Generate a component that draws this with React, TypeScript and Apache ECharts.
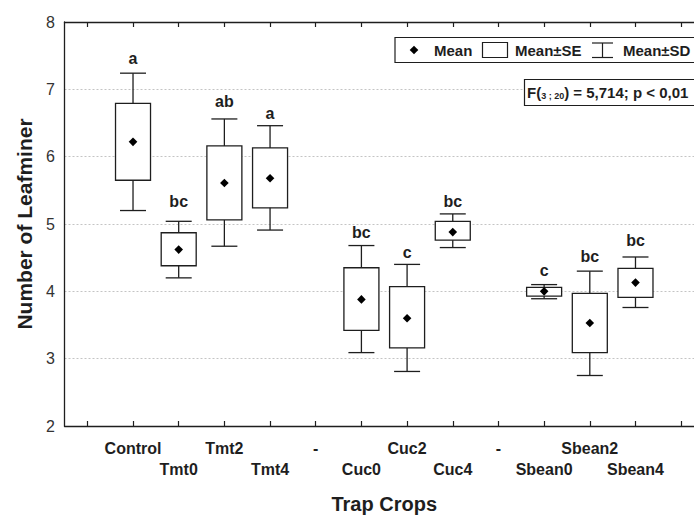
import React, { useEffect, useRef } from "react";
import * as echarts from "echarts";

// ---- Data ----
const axisCategories = ["", "Control", "Tmt0", "Tmt2", "Tmt4", "-", "Cuc0", "Cuc2", "Cuc4", "-", "Sbean0", "Sbean2", "Sbean4", ""];
const groups = ["Control", "Tmt0", "Tmt2", "Tmt4", "Cuc0", "Cuc2", "Cuc4", "Sbean0", "Sbean2", "Sbean4"];
const means = [6.22, 4.62, 5.61, 5.68, 3.88, 3.6, 4.88, 4.0, 3.53, 4.13];
const seLow = [5.65, 4.38, 5.06, 5.24, 3.42, 3.16, 4.76, 3.93, 3.09, 3.91];
const seHigh = [6.79, 4.87, 6.16, 6.13, 4.35, 4.07, 5.04, 4.06, 3.97, 4.34];
const sdLow = [5.2, 4.2, 4.67, 4.91, 3.09, 2.81, 4.65, 3.89, 2.75, 3.76];
const sdHigh = [7.24, 5.04, 6.56, 6.46, 4.68, 4.4, 5.15, 4.1, 4.3, 4.51];
const letters = ["a", "bc", "ab", "a", "bc", "c", "bc", "c", "bc", "bc"];
const letterY = [7.39, 5.27, 6.75, 6.57, 4.81, 4.51, 5.26, 4.24, 4.45, 4.69];
const yTicks = { min: 2, max: 8, interval: 1 };
const statText = { pre: "F(", sub: "3 ; 20", post: ") = 5,714; p < 0,01" };

const FONT = '"Liberation Sans", Arial, sans-serif';
const INK = "#1e1e1e";

export default function App() {
  const ref = useRef<HTMLDivElement>(null);
  useEffect(() => {
    const chart = echarts.init(ref.current!, null, { renderer: "svg" });
    const data = groups.map((g, i) => [
      axisCategories.indexOf(g),
      means[i],
      seLow[i],
      seHigh[i],
      sdLow[i],
      sdHigh[i],
      letterY[i],
      i,
    ]);
    const lineStyle = { stroke: INK, lineWidth: 1.3 };
    const option: any = {
      animation: false,
      backgroundColor: "#fff",
      textStyle: { fontFamily: FONT },
      grid: { left: 64.5, top: 22, bottom: 88, right: 16 },
      xAxis: [
        {
          type: "category",
          data: axisCategories,
          position: "bottom",
          boundaryGap: true,
          axisLine: { lineStyle: { color: INK, width: 1.3 } },
          axisTick: { show: true, inside: true, length: 5, alignWithLabel: true, interval: 0, lineStyle: { color: INK, width: 1.2 } },
          axisLabel: {
            interval: 0,
            margin: 11.5,
            fontFamily: FONT,
            fontSize: 16,
            fontWeight: "bold",
            color: INK,
            lineHeight: 21,
            formatter: (v: string, i: number) => (i % 2 === 0 && v !== "" ? "\n" + v : v),
          },
          name: "Trap Crops",
          nameLocation: "middle",
          nameGap: 68,
          nameTextStyle: { fontFamily: FONT, fontSize: 20, fontWeight: "bold", color: INK },
        },
        {
          type: "category",
          data: axisCategories,
          position: "top",
          boundaryGap: true,
          axisLine: { show: true, lineStyle: { color: INK, width: 1.3 } },
          axisTick: { show: true, inside: true, length: 5, alignWithLabel: true, interval: 0, lineStyle: { color: INK, width: 1.2 } },
          axisLabel: { show: false },
        },
      ],
      yAxis: {
        type: "value",
        min: yTicks.min,
        max: yTicks.max,
        interval: yTicks.interval,
        axisLine: { show: true, lineStyle: { color: INK, width: 1.3 } },
        axisTick: { show: false },
        axisLabel: { fontFamily: FONT, fontSize: 16, color: "#333", margin: 9.5 },
        splitLine: { show: true, lineStyle: { color: "#c4c4c4", type: [2, 2], width: 1 } },
        name: "Number of Leafminer",
        nameLocation: "middle",
        nameGap: 29,
        nameTextStyle: { fontFamily: FONT, fontSize: 21, fontWeight: "bold", color: INK },
      },
      series: [
        {
          type: "custom",
          xAxisIndex: 0,
          data,
          encode: { x: 0, y: [1, 2, 3, 4, 5] },
          renderItem: (params: any, api: any) => {
            const x = api.value(0);
            const [cx, yMean] = api.coord([x, api.value(1)]);
            const ySeLo = api.coord([x, api.value(2)])[1];
            const ySeHi = api.coord([x, api.value(3)])[1];
            const ySdLo = api.coord([x, api.value(4)])[1];
            const ySdHi = api.coord([x, api.value(5)])[1];
            const yLet = api.coord([x, api.value(6)])[1];
            const idx = api.value(7);
            const bw = 35;
            const cw = 26;
            const d = 4.3;
            return {
              type: "group",
              children: [
                { type: "line", shape: { x1: cx, y1: ySdLo, x2: cx, y2: ySdHi }, style: lineStyle },
                { type: "line", shape: { x1: cx - cw / 2, y1: ySdLo, x2: cx + cw / 2, y2: ySdLo }, style: lineStyle },
                { type: "line", shape: { x1: cx - cw / 2, y1: ySdHi, x2: cx + cw / 2, y2: ySdHi }, style: lineStyle },
                {
                  type: "rect",
                  shape: { x: cx - bw / 2, y: ySeHi, width: bw, height: ySeLo - ySeHi },
                  style: { fill: "#fff", stroke: INK, lineWidth: 1.3 },
                },
                {
                  type: "polygon",
                  shape: { points: [[cx, yMean - d], [cx + d, yMean], [cx, yMean + d], [cx - d, yMean]] },
                  style: { fill: "#000" },
                },
                {
                  type: "text",
                  style: {
                    text: letters[idx],
                    x: cx,
                    y: yLet + 3.4,
                    textAlign: "center",
                    textVerticalAlign: "bottom",
                    font: `bold 16px ${FONT}`,
                    fill: INK,
                  },
                },
              ],
            };
          },
        },
      ],
      graphic: [
        { type: "rect", shape: { x: 395, y: 37.5, width: 330, height: 25 }, style: { fill: "#fff", stroke: INK, lineWidth: 1.2 }, z: 10 },
        { type: "polygon", shape: { points: [[414, 45.7], [418.3, 50], [414, 54.3], [409.7, 50]] }, style: { fill: "#000" }, z: 11 },
        { type: "text", style: { text: "Mean", x: 434, y: 50, textVerticalAlign: "middle", font: `bold 15px ${FONT}`, fill: INK }, z: 11 },
        { type: "rect", shape: { x: 482.5, y: 42.5, width: 25, height: 15 }, style: { fill: "#fff", stroke: INK, lineWidth: 1.2 }, z: 11 },
        { type: "text", style: { text: "Mean±SE", x: 515, y: 50, textVerticalAlign: "middle", font: `bold 15px ${FONT}`, fill: INK }, z: 11 },
        { type: "line", shape: { x1: 592, y1: 43, x2: 613, y2: 43 }, style: { stroke: INK, lineWidth: 1.2 }, z: 11 },
        { type: "line", shape: { x1: 592, y1: 57.5, x2: 613, y2: 57.5 }, style: { stroke: INK, lineWidth: 1.2 }, z: 11 },
        { type: "line", shape: { x1: 602.5, y1: 43, x2: 602.5, y2: 57.5 }, style: { stroke: INK, lineWidth: 1.2 }, z: 11 },
        { type: "text", style: { text: "Mean±SD", x: 623, y: 50, textVerticalAlign: "middle", font: `bold 15px ${FONT}`, fill: INK }, z: 11 },
        { type: "rect", shape: { x: 524.5, y: 79.5, width: 220, height: 26 }, style: { fill: "#fff", stroke: INK, lineWidth: 1.2 }, z: 10 },
        {
          type: "text",
          z: 11,
          style: {
            text: `{n|${statText.pre}}{s|${statText.sub}}{n|${statText.post}}`,
            x: 527,
            y: 92.5,
            textVerticalAlign: "middle",
            rich: {
              n: { fontFamily: FONT, fontSize: 15, fontWeight: "bold", fill: INK, color: INK },
              s: { fontFamily: FONT, fontSize: 9, fontWeight: "bold", fill: INK, color: INK, verticalAlign: "bottom", padding: [6, 0, 0, 0] },
            },
          },
        },
      ],
    };
    chart.setOption(option);
    return () => chart.dispose();
  }, []);
  return (
    <div style={{ position: "fixed", left: 0, top: 0, width: 694, height: 519, overflow: "hidden", background: "#fff" }}>
      <div ref={ref} style={{ width: 720, height: 519 }} />
    </div>
  );
}
